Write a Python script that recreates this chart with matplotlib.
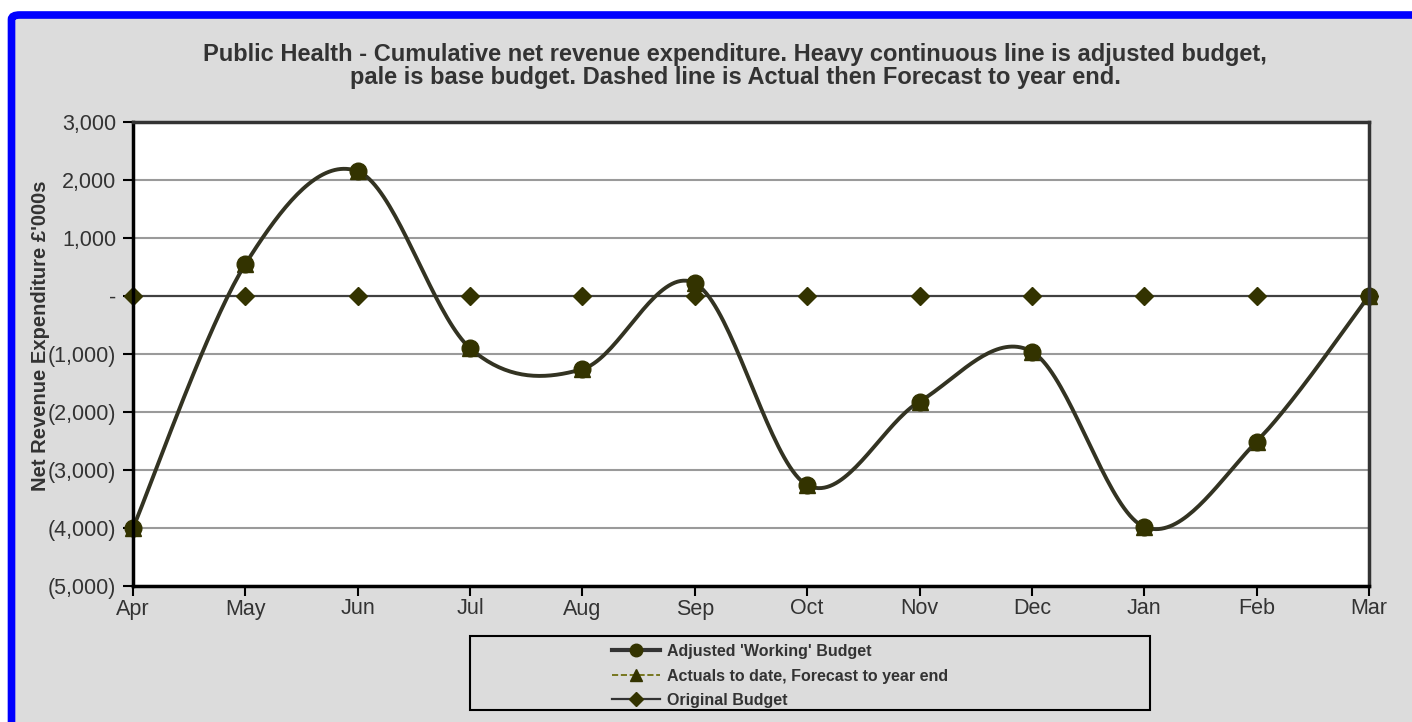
import numpy as np
import matplotlib
matplotlib.use("Agg")
import matplotlib.pyplot as plt
from matplotlib.patches import Rectangle, FancyBboxPatch
from matplotlib.lines import Line2D

plt.rcParams['font.family'] = ['Liberation Sans', 'DejaVu Sans']

months = ["Apr", "May", "Jun", "Jul", "Aug", "Sep", "Oct", "Nov", "Dec", "Jan", "Feb", "Mar"]
adjusted_budget = [-4000, 550, 2150, -900, -1260, 220, -3260, -1820, -960, -3980, -2510, 0]
actual_forecast = [-4000, 550, 2150, -900, -1260, 220, -3260, -1820, -960, -3980, -2510, 0]
original_budget = [0, 0, 0, 0, 0, 0, 0, 0, 0, 0, 0, 0]
yticks = [3000, 2000, 1000, 0, -1000, -2000, -3000, -4000, -5000]
ytick_labels = ["3,000", "2,000", "1,000", "-", "(1,000)", "(2,000)", "(3,000)", "(4,000)", "(5,000)"]

title = ("Public Health - Cumulative net revenue expenditure. Heavy continuous line is adjusted budget,\n"
         "pale is base budget. Dashed line is Actual then Forecast to year end.")

DARK = "#333300"


def smooth(xs, ys, n=40):
    """Excel-style smoothed line via cubic Bezier segments."""
    xs = np.asarray(xs, float)
    ys = np.asarray(ys, float)
    P = np.column_stack([xs, ys])
    Pe = np.vstack([P[0], P, P[-1]])
    out = []
    t = np.linspace(0, 1, n)[:, None]
    for i in range(len(P) - 1):
        p0 = P[i]
        p3 = P[i + 1]
        c1 = p0 + (Pe[i + 2] - Pe[i]) / 6.0
        c2 = p3 - (Pe[i + 3] - Pe[i + 1]) / 6.0
        seg = ((1 - t) ** 3) * p0 + 3 * ((1 - t) ** 2) * t * c1 + 3 * (1 - t) * t ** 2 * c2 + t ** 3 * p3
        out.append(seg if i == 0 else seg[1:])
    out = np.vstack(out)
    return out[:, 0], out[:, 1]


fig = plt.figure(figsize=(14.12, 7.22), dpi=100)
fig.patch.set_facecolor("white")

# outer frame
W, H = 1412, 722
frame = FancyBboxPatch((11.5 / W, -10 / H), (W + 10) / W, (H - 5) / H,
                       boxstyle="round,pad=0,rounding_size=0.006",
                       transform=fig.transFigure, facecolor="#DCDCDC",
                       edgecolor="#0000FF", linewidth=5.5, zorder=-5)
fig.patches.append(frame)

ax = fig.add_axes([133 / W, 1 - 586 / H, (1369 - 133) / W, (586 - 122) / H])
ax.set_facecolor("white")

x = np.arange(len(months))

for yv in yticks:
    if yv != 0:
        ax.axhline(yv, color="#9a9a9a", linewidth=1.5, zorder=1)

# Original budget
ax.plot(x, original_budget, color="#404040", linewidth=1.6, zorder=2)
ax.plot(x, original_budget, linestyle="none", marker="D", markersize=9.5,
        color=DARK, zorder=3, clip_on=False)

# Actuals / forecast
sx2, sy2 = smooth(x, actual_forecast)
ax.plot(sx2, sy2, color="#666600", linewidth=1.2, linestyle="--", zorder=3)
ax.plot(x, actual_forecast, linestyle="none", marker="^", markersize=12,
        color=DARK, zorder=4, clip_on=False)

# Adjusted budget
sx, sy = smooth(x, adjusted_budget)
ax.plot(sx, sy, color="#333322", linewidth=2.8, zorder=5)
ax.plot(x, adjusted_budget, linestyle="none", marker="o", markersize=12,
        color=DARK, zorder=6, clip_on=False)

ax.set_xlim(0, len(months) - 1)
ax.set_ylim(-5000, 3000)
ax.set_xticks(x)
ax.set_xticklabels(months, fontsize=15.5, color="#333333")
ax.set_yticks(yticks)
ax.set_yticklabels(ytick_labels, fontsize=15.5, color="#333333")
ax.tick_params(axis="both", direction="out", length=7, width=1.5, color="black")
ax.tick_params(axis="y", pad=5)
ax.tick_params(axis="x", pad=2)

for side in ["left", "right", "top", "bottom"]:
    ax.spines[side].set_linewidth(2.5)
    ax.spines[side].set_zorder(7)
ax.spines["left"].set_color("black")
ax.spines["bottom"].set_color("black")
ax.spines["top"].set_color("#333333")
ax.spines["right"].set_color("#333333")

ax.set_ylabel("Net Revenue Expenditure £'000s", fontsize=14.5, fontweight="bold",
              color="#333333")
ax.yaxis.set_label_coords(-0.067, 0.54)

fig.text(735 / W, 1 - 66 / H, title, ha="center", va="center", fontsize=17,
         fontweight="bold", color="#333333", linespacing=1.0)

# legend box
lx0, lx1, ly0, ly1 = 470, 1150, 636, 710
fig.patches.append(Rectangle((lx0 / W, 1 - ly1 / H), (lx1 - lx0) / W, (ly1 - ly0) / H,
                             transform=fig.transFigure, facecolor="none",
                             edgecolor="black", linewidth=1.5, zorder=5))

handles = [
    Line2D([], [], color="#333333", linewidth=3, marker="o", markersize=9,
           markerfacecolor=DARK, markeredgecolor=DARK),
    Line2D([], [], color="#666600", linewidth=1.2, linestyle="--", marker="^",
           markersize=9, markerfacecolor=DARK, markeredgecolor=DARK),
    Line2D([], [], color="#333333", linewidth=1.6, marker="D", markersize=7,
           markerfacecolor=DARK, markeredgecolor=DARK),
]
labels = ["Adjusted 'Working' Budget", "Actuals to date, Forecast to year end", "Original Budget"]
leg = fig.legend(handles, labels, loc="center", bbox_to_anchor=(780 / W, 1 - 676 / H),
                 frameon=False, prop={"weight": "bold", "size": 11.5}, handlelength=3.0,
                 labelspacing=0.6, handletextpad=0.4, borderpad=0)
for t in leg.get_texts():
    t.set_color("#333333")

fig.savefig("out.png", dpi=100, facecolor=fig.get_facecolor())
